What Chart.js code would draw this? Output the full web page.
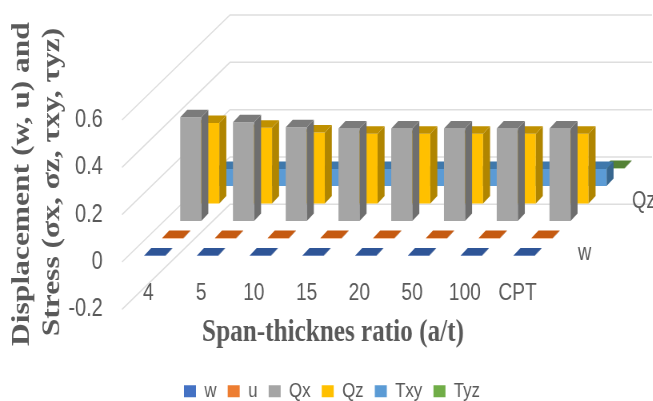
<!DOCTYPE html>
<html>
<head>
<meta charset="utf-8">
<style>
  html, body { margin: 0; padding: 0; background: #fff; width: 653px; height: 401px; overflow: hidden; }
  /* the original picture is squeezed sideways, text included */
  canvas { display: block; transform-origin: 0 0; transform: scaleX(0.8); filter: blur(0.4px); }
</style>
<script src="https://cdn.jsdelivr.net/npm/chart.js@4"></script>
</head>
<body>
<canvas id="chart" width="816" height="401"></canvas>
<script>
const categories = ['4', '5', '10', '15', '20', '50', '100', 'CPT']
const seriesNames = ['w', 'u', 'Qx', 'Qz', 'Txy', 'Tyz']
const yTitleLines = ['Displacement (w, u) and', 'Stress (σx, σz, τxy, τyz)']

const w = [0.002, 0.002, 0.002, 0.002, 0.002, 0.002, 0.002, 0.002]
const u = [0.002, 0.002, 0.002, 0.002, 0.002, 0.002, 0.002, 0.002]
const qx = [0.438, 0.417, 0.396, 0.391, 0.391, 0.391, 0.391, 0.391]
const qz = [0.34, 0.32, 0.3, 0.295, 0.295, 0.295, 0.295, 0.295]
const txy = [0.072, 0.072, 0.072, 0.072, 0.072, 0.072, 0.072, 0.072]
const tyz = [0.002, 0.002, 0.002, 0.002, 0.002, 0.002, 0.002, 0.002]
const seriesValues = [w, u, qx, qz, txy, tyz]

const frontColors = ['#4472C4', '#ED7D31', '#A5A5A5', '#FFC000', '#5B9BD5', '#70AD47']
const topColors = ['#2F5597', '#C55A11', '#7B7B7B', '#BF9000', '#3F78AB', '#548235']
const sideColors = ['#264478', '#9E480E', '#6E6E6E', '#B08500', '#38678F', '#43682B']

// oblique projection, x values are in canvas pixels (before the 0.8 squeeze)
const rowX = 22.5
const rowY = 17.5
const gapX = 8
const gapY = 6
const barDepthX = 8.75
const barDepthY = 7.5
const wallX = rowX * 6
const wallY = rowY * 6

const textColor = '#595959'
const sans = '"Liberation Sans", sans-serif'
const serif = '"Liberation Serif", serif'

const walls = {
    id: 'walls',
    beforeDatasetsDraw(chart) {
        const { ctx, chartArea, scales } = chart
        ctx.save()
        ctx.strokeStyle = '#DEDEDE'
        ctx.lineWidth = 1.5
        scales.y.ticks.forEach(tick => {
            let y = scales.y.getPixelForValue(tick.value)
            ctx.beginPath()
            ctx.moveTo(chartArea.left, y)
            ctx.lineTo(chartArea.left + wallX, y - wallY)
            ctx.lineTo(chartArea.right + wallX, y - wallY)
            ctx.stroke()
        })
        ctx.restore()
    }
}

const box3d = {
    id: 'box3d',
    beforeDatasetDraw(chart, args) {
        const ctx = chart.ctx
        ctx.save()
        ctx.translate(gapX + args.index * rowX, -gapY - args.index * rowY)
    },
    afterDatasetDraw(chart, args) {
        const ctx = chart.ctx
        args.meta.data.forEach(bar => {
            let right = bar.x + bar.width / 2
            let left = bar.x - bar.width / 2

            ctx.fillStyle = sideColors[args.index]
            ctx.beginPath()
            ctx.moveTo(right, bar.y)
            ctx.lineTo(right + barDepthX, bar.y - barDepthY)
            ctx.lineTo(right + barDepthX, bar.base - barDepthY)
            ctx.lineTo(right, bar.base)
            ctx.closePath()
            ctx.fill()

            ctx.fillStyle = topColors[args.index]
            ctx.beginPath()
            ctx.moveTo(left, bar.y)
            ctx.lineTo(right, bar.y)
            ctx.lineTo(right + barDepthX, bar.y - barDepthY)
            ctx.lineTo(left + barDepthX, bar.y - barDepthY)
            ctx.closePath()
            ctx.fill()
        })
        ctx.restore()
    }
}

// labels of the depth axis, only every third series name fits
const depthLabels = {
    id: 'depthLabels',
    afterDatasetsDraw(chart) {
        const { ctx, chartArea, scales } = chart
        ctx.save()
        ctx.font = '23px ' + sans
        ctx.fillStyle = textColor
        ctx.textBaseline = 'middle'
        ctx.textAlign = 'left'
        let zero = scales.y.getPixelForValue(0)
        ;[0, 3].forEach(i => {
            ctx.fillText(seriesNames[i], chartArea.right + 42.5 + i * rowX, zero - 8 - i * rowY)
        })
        ctx.restore()
    }
}

// the y title is longer than the axis and sits above its middle, so chart.js can't place it
const yTitle = {
    id: 'yTitle',
    afterDraw(chart) {
        const ctx = chart.ctx
        ctx.save()
        ctx.font = 'bold 31.5px ' + serif
        ctx.fillStyle = textColor
        ctx.textAlign = 'center'
        ctx.textBaseline = 'middle'
        yTitleLines.forEach((line, i) => {
            ctx.save()
            ctx.translate(i === 0 ? 27.5 : 66, i === 0 ? 184 : 182)
            ctx.rotate(-Math.PI / 2)
            ctx.fillText(line, 0, 0)
            ctx.restore()
        })
        ctx.restore()
    }
}

const datasets = seriesNames.map((name, i) => ({
    label: name,
    data: seriesValues[i],
    backgroundColor: frontColors[i],
    borderWidth: 0,
    clip: false,
    grouped: false,
    barPercentage: 0.4,
    categoryPercentage: 1
}))

new Chart(document.getElementById('chart'), {
    type: 'bar',
    data: { labels: categories, datasets: datasets },
    plugins: [walls, box3d, depthLabels, yTitle],
    options: {
        responsive: false,
        animation: false,
        layout: { padding: { top: 120, right: 0, left: 14, bottom: -10.8 } },
        plugins: {
            tooltip: { enabled: false },
            legend: {
                position: 'bottom',
                labels: {
                    boxWidth: 15,
                    boxHeight: 12,
                    padding: 14,
                    color: textColor,
                    font: { family: sans, size: 21 }
                }
            }
        },
        scales: {
            x: {
                grid: { display: false },
                border: { display: false },
                afterFit(axis) { axis.height = 57.5 },
                ticks: {
                    mirror: true,
                    color: textColor,
                    padding: 1.5,
                    maxRotation: 0,
                    autoSkip: false,
                    font: { family: sans, size: 24 }
                },
                title: {
                    display: true,
                    text: 'Span-thicknes ratio (a/t)',
                    color: textColor,
                    padding: { top: 0, bottom: 15.5 },
                    font: { family: serif, size: 31.5, weight: 'bold' }
                }
            },
            y: {
                min: -0.2,
                max: 0.6,
                grid: { display: false },
                border: { display: false },
                afterFit(axis) { axis.width = 138.5 },
                ticks: {
                    stepSize: 0.2,
                    padding: 16,
                    color: textColor,
                    font: { family: sans, size: 25 }
                }
            },
            // empty axis, keeps the room on the right for the depth of the walls
            yRight: {
                axis: 'y',
                position: 'right',
                grid: { display: false },
                border: { display: false },
                ticks: { display: false },
                afterFit(axis) { axis.width = 136 }
            }
        }
    }
})
</script>
</body>
</html>
